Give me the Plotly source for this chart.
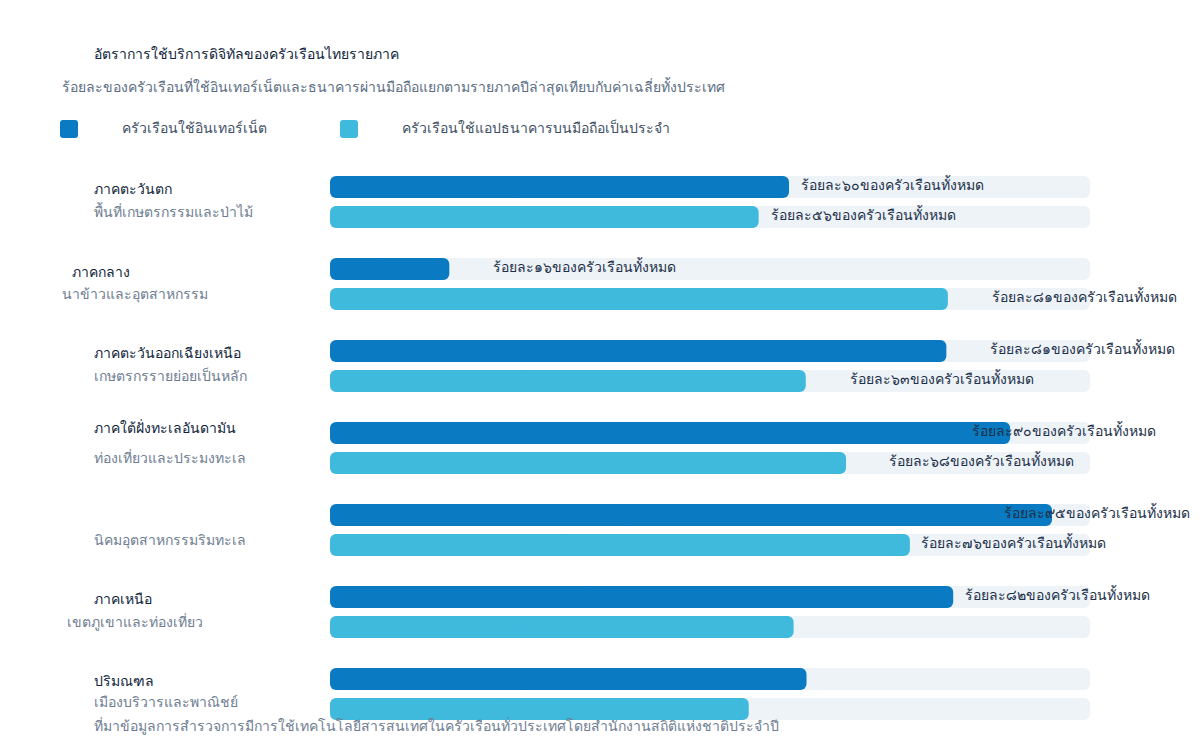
import plotly.graph_objects as go

title = "อัตราการใช้บริการดิจิทัลของครัวเรือนไทยรายภาค"
subtitle = "ร้อยละของครัวเรือนที่ใช้อินเทอร์เน็ตและธนาคารผ่านมือถือแยกตามรายภาคปีล่าสุดเทียบกับค่าเฉลี่ยทั้งประเทศ"
series_names = ["ครัวเรือนใช้อินเทอร์เน็ต", "ครัวเรือนใช้แอปธนาคารบนมือถือเป็นประจำ"]
regions = ["ภาคตะวันตก", "ภาคกลาง", "ภาคตะวันออกเฉียงเหนือ", "ภาคใต้ฝั่งทะเลอันดามัน", "",
           "ภาคเหนือ", "ปริมณฑล"]
region_notes = ["พื้นที่เกษตรกรรมและป่าไม้", "นาข้าวและอุตสาหกรรม", "เกษตรกรรายย่อยเป็นหลัก",
                "ท่องเที่ยวและประมงทะเล", "นิคมอุตสาหกรรมริมทะเล", "เขตภูเขาและท่องเที่ยว",
                "เมืองบริวารและพาณิชย์"]
internet = [60.4, 15.7, 81.1, 89.5, 95.0, 82.0, 62.7]
mobile_banking = [56.4, 81.3, 62.6, 67.9, 76.3, 61.0, 55.1]
internet_shown = [True, True, True, True, True, True, False]
mobile_shown = [True, True, True, True, True, False, False]
footnote = ("ที่มาข้อมูลการสำรวจการมีการใช้เทคโนโลยีสารสนเทศในครัวเรือนทั่วประเทศ"
            "โดยสำนักงานสถิติแห่งชาติประจำปี")

DARK = "#0a7bc2"
LIGHT = "#3fb9dc"
TRACK = "#eef3f8"
INK = "#10243a"
MUTED = "#6e7d91"
FONT = "Open Sans, verdana, arial, sans-serif"

PAGE = 8                           # body margin of the html page
W, H = 1184, 738
L, R, T, B = 322, 1082, 153, 727   # plot area in figure pixels

THAI_DIGITS = str.maketrans("0123456789", "๐๑๒๓๔๕๖๗๘๙")


def label(v):
    return f"ร้อยละ{round(v)}".translate(THAI_DIGITS) + "ของครัวเรือนทั้งหมด"


def px(x):
    return (x - PAGE - L) / (R - L)


def py(y):
    return (B - (y - PAGE)) / (B - T)


rows = list(range(len(regions)))
OFF = 15 / 82
BW = 22 / 82
y_dark = [k - OFF for k in rows]
y_light = [k + OFF for k in rows]

# label nudges (pixels)
internet_shift = [10, 42, 42, -40, -50, 10, 0]
mobile_shift = [10, 42, 42, 41, 9, 0, 0]
title_x = [92, 70, 92, 92, 92, 92, 92]
title_dy = [-1.5, -2, -1.5, 6, 0, -1.5, -1.5]
note_x = [92, 60, 92, 92, 92, 65, 92]
note_dy = [5.5, 5.5, 5.5, 5.5, 5.5, 5.5, 8]

fig = go.Figure()


def add_rounded(xs, ys, color):
    # cornerradius only rounds the tip, so each bar is drawn as two overlapping halves
    common = dict(y=ys, orientation="h", width=BW, hoverinfo="skip", showlegend=False,
                  marker=dict(color=color, cornerradius=6, line=dict(width=0)))
    fig.add_trace(go.Bar(x=[-0.6 * v for v in xs], base=[0.6 * v for v in xs], **common))
    fig.add_trace(go.Bar(x=[0.6 * v for v in xs], base=[0.4 * v for v in xs], **common))


add_rounded([100] * len(rows), y_dark, TRACK)
add_rounded([100] * len(rows), y_light, TRACK)
add_rounded(internet, y_dark, DARK)
add_rounded(mobile_banking, y_light, LIGHT)

ann = []


def text(x, y, s, color, size=14, **kw):
    d = dict(x=x, y=y, text=s, showarrow=False, xanchor="left", yanchor="middle",
             font=dict(family=FONT, size=size, color=color))
    d.setdefault("xref", "paper")
    d.setdefault("yref", "paper")
    d.update(kw)
    ann.append(d)


text(px(92), py(53), title, INK)
text(px(60), py(87), subtitle, "#5b6d82")
text(px(120), py(127), series_names[0], "#3e4f63")
text(px(400), py(127), series_names[1], "#3e4f63")

for k in rows:
    if regions[k]:
        text(px(title_x[k]), y_dark[k], regions[k], INK, yref="y", yshift=title_dy[k])
    text(px(note_x[k]), y_light[k], region_notes[k], MUTED, yref="y", yshift=note_dy[k])
    if internet_shown[k]:
        text(internet[k], y_dark[k], label(internet[k]), "#1c3048", xref="x", yref="y",
             xshift=internet_shift[k], yshift=3)
    if mobile_shown[k]:
        text(mobile_banking[k], y_light[k], label(mobile_banking[k]), "#1c3048", xref="x",
             yref="y", xshift=mobile_shift[k], yshift=3)

text(px(92), py(725), footnote, MUTED)


def swatch(x0, y0, x1, y1, r, color):
    pts = [("M", x0 + r, y0), ("L", x1 - r, y0), ("Q", x1, y0, x1, y0 + r), ("L", x1, y1 - r),
           ("Q", x1, y1, x1 - r, y1), ("L", x0 + r, y1), ("Q", x0, y1, x0, y1 - r),
           ("L", x0, y0 + r), ("Q", x0, y0, x0 + r, y0)]
    path = ""
    for p in pts:
        coords = p[1:]
        seg = " ".join(f"{px(coords[i]):.5f},{py(coords[i + 1]):.5f}" for i in range(0, len(coords), 2))
        path += f"{p[0]} {seg} "
    return dict(type="path", xref="paper", yref="paper", path=path + "Z",
                fillcolor=color, line=dict(width=0))


fig.update_layout(
    width=W, height=H,
    margin=dict(l=L, r=W - R, t=T, b=H - B),
    barmode="overlay",
    paper_bgcolor="white", plot_bgcolor="white",
    font=dict(family=FONT, size=14, color=INK),
    xaxis=dict(range=[0, 100], visible=False, fixedrange=True),
    yaxis=dict(range=[len(rows) - 0.5, -0.5], visible=False, fixedrange=True),
    annotations=ann,
    shapes=[swatch(60, 120, 78, 138, 3, DARK), swatch(340, 120, 358, 138, 3, LIGHT)],
    hovermode=False,
    showlegend=False,
)

fig.write_html("out.html")
